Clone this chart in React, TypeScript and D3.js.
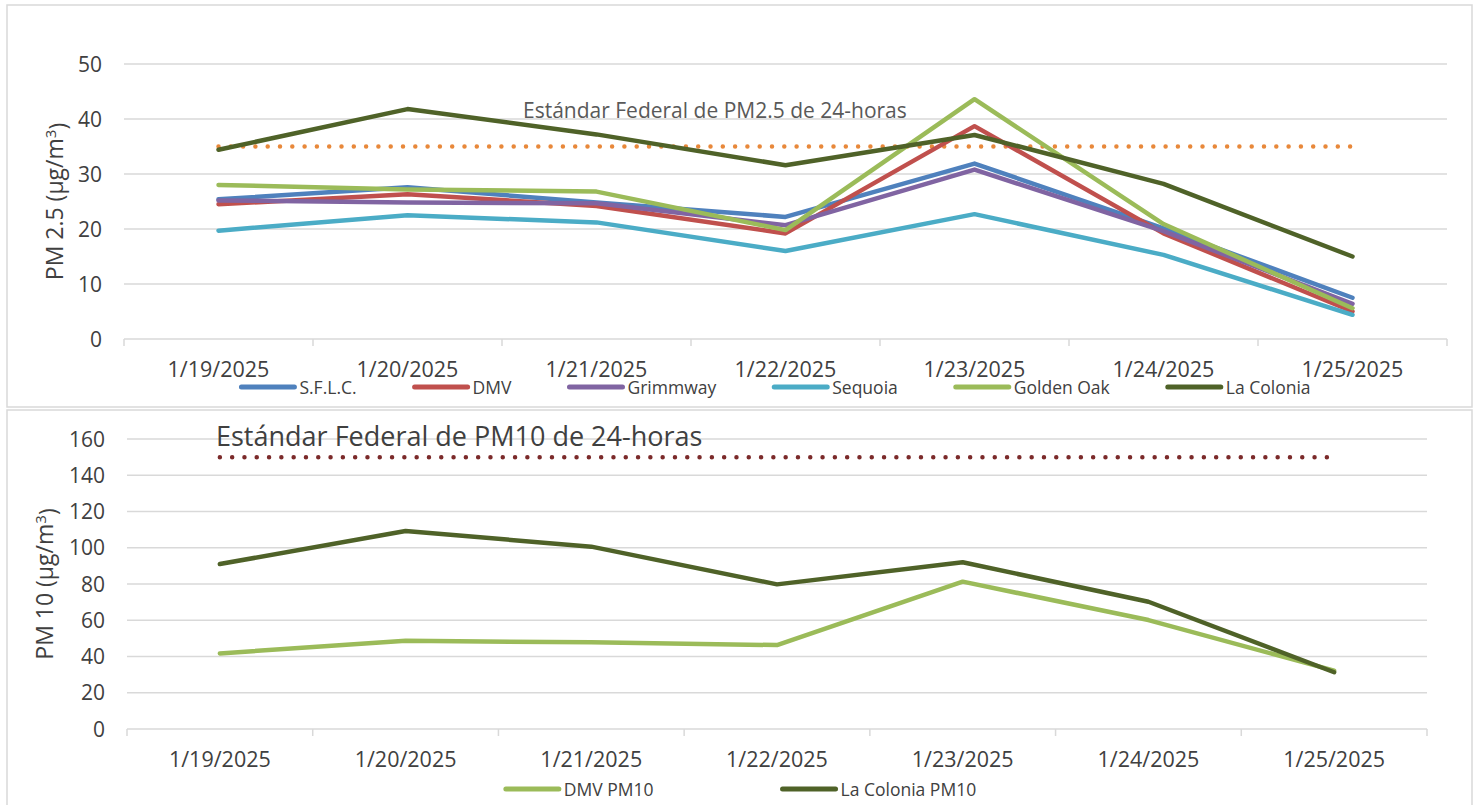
import React, { useEffect, useRef } from 'react';
import * as d3 from 'd3';

// categories
const dates = ['1/19/2025', '1/20/2025', '1/21/2025', '1/22/2025', '1/23/2025', '1/24/2025', '1/25/2025'];

// PM 2.5 series (µg/m3)
const sflc = [25.4, 27.6, 24.8, 22.2, 31.9, 20.1, 7.5];
const dmv = [24.5, 26.3, 24.2, 19.2, 38.7, 19.2, 5.0];
const grimmway = [25.2, 24.8, 24.7, 20.7, 30.8, 19.6, 6.4];
const sequoia = [19.7, 22.5, 21.2, 16.0, 22.7, 15.3, 4.4];
const goldenOak = [28.0, 27.2, 26.8, 19.8, 43.6, 20.9, 5.6];
const laColonia = [34.4, 41.8, 37.2, 31.6, 37.1, 28.2, 15.0];
const pm25Standard = 35;
const pm25Ticks = [0, 10, 20, 30, 40, 50];

// PM 10 series (µg/m3)
const dmvPm10 = [41.7, 48.7, 47.8, 46.3, 81.3, 60.1, 32.2];
const laColoniaPm10 = [91.0, 109.2, 100.6, 79.8, 92.0, 70.2, 31.3];
const pm10Standard = 150;
const pm10Ticks = [0, 20, 40, 60, 80, 100, 120, 140, 160];

const FONT = "'Open Sans', 'Liberation Sans', sans-serif";
const GRID = '#d9d9d9';
const TEXT = '#404040';

function drawChart(svg, cfg) {
  const g = svg.append('g');

  g.append('rect')
    .attr('x', cfg.box.x).attr('y', cfg.box.y)
    .attr('width', cfg.box.w).attr('height', cfg.box.h)
    .attr('fill', '#fff').attr('stroke', GRID).attr('stroke-width', 1.5);

  let x = d3.scaleBand().domain(dates).range([cfg.left, cfg.right]);
  let y = d3.scaleLinear().domain([0, d3.max(cfg.ticks)]).range([cfg.bottom, cfg.top]);
  let cx = d => x(d) + x.bandwidth() / 2;

  // gridlines
  g.selectAll('.grid').data(cfg.ticks.filter(t => t > 0)).join('line')
    .attr('x1', cfg.left).attr('x2', cfg.right)
    .attr('y1', d => y(d)).attr('y2', d => y(d))
    .attr('stroke', GRID).attr('stroke-width', 1.5);

  // category axis
  g.append('line')
    .attr('x1', cfg.left).attr('x2', cfg.right)
    .attr('y1', y(0)).attr('y2', y(0))
    .attr('stroke', GRID).attr('stroke-width', 1.5);
  g.selectAll('.xtick').data(d3.range(dates.length + 1)).join('line')
    .attr('x1', i => cfg.left + i * x.step()).attr('x2', i => cfg.left + i * x.step())
    .attr('y1', y(0)).attr('y2', y(0) + 7)
    .attr('stroke', GRID).attr('stroke-width', 1.5);

  g.selectAll('.xlab').data(dates).join('text')
    .attr('x', d => cx(d)).attr('y', y(0) + 38)
    .attr('text-anchor', 'middle')
    .attr('font-family', FONT).attr('font-size', 21.5).attr('fill', TEXT)
    .text(d => d);

  g.selectAll('.ylab').data(cfg.ticks).join('text')
    .attr('x', cfg.left - 22).attr('y', d => y(d))
    .attr('dy', '0.36em')
    .attr('text-anchor', 'end')
    .attr('font-family', FONT).attr('font-size', 21).attr('fill', TEXT)
    .text(d => d);

  // y axis title
  let title = g.append('text')
    .attr('transform', `translate(${cfg.titleX}, ${(cfg.top + cfg.bottom) / 2}) rotate(-90)`)
    .attr('text-anchor', 'middle')
    .attr('font-family', FONT).attr('font-size', 23).attr('fill', TEXT);
  title.append('tspan').text(cfg.title + ' (µg/m');
  title.append('tspan').attr('dy', '-0.45em').attr('font-size', 15).text('3');
  title.append('tspan').attr('dy', '0.45em').text(')');

  // standard (dotted)
  g.append('path')
    .datum(dates)
    .attr('d', d3.line().x(d => cx(d)).y(() => y(cfg.standard)))
    .attr('fill', 'none')
    .attr('stroke', cfg.standardColor).attr('stroke-width', 4.5)
    .attr('stroke-linecap', 'round')
    .attr('stroke-dasharray', '0 12.3');

  // series
  let line = d3.line().x((d, i) => cx(dates[i])).y(d => y(d));
  g.selectAll('.series').data(cfg.series).join('path')
    .attr('d', s => line(s.values))
    .attr('fill', 'none')
    .attr('stroke', s => s.color).attr('stroke-width', 4.5)
    .attr('stroke-linejoin', 'round').attr('stroke-linecap', 'round');

  // annotation
  g.append('text')
    .attr('x', cfg.noteX).attr('y', y(cfg.standard) + cfg.noteDy)
    .attr('font-family', FONT).attr('font-size', cfg.noteSize).attr('fill', cfg.noteColor)
    .text(cfg.note);

  // legend
  let lg = g.append('g');
  let items = lg.selectAll('g').data(cfg.series).join('g');
  items.append('line')
    .attr('x1', 0).attr('x2', 53).attr('y1', 0).attr('y2', 0)
    .attr('stroke', s => s.color).attr('stroke-width', 5).attr('stroke-linecap', 'round');
  items.append('text')
    .attr('x', 58).attr('y', 6.5)
    .attr('font-family', FONT).attr('font-size', 17.5).attr('fill', TEXT)
    .text(s => s.name);
  let pos = 0;
  let offs = [];
  items.each(function () {
    offs.push(pos);
    let w = d3.select(this).select('text').node().getComputedTextLength();
    pos += 58 + w + cfg.legendGap;
  });
  let total = pos - cfg.legendGap;
  items.attr('transform', (d, i) => `translate(${offs[i]}, 0)`);
  lg.attr('transform', `translate(${cfg.legendCenter - total / 2}, ${cfg.legendY})`);
}

export default function App() {
  const ref = useRef(null);

  useEffect(() => {
    let svg = d3.select(ref.current);
    svg.selectAll('*').remove();

    drawChart(svg, {
      box: { x: 7, y: 5, w: 1465, h: 402 },
      left: 124, right: 1447, top: 64, bottom: 339,
      ticks: pm25Ticks,
      title: 'PM 2.5', titleX: 62.5,
      standard: pm25Standard, standardColor: '#e8883a',
      note: 'Estándar Federal de PM2.5 de 24-horas', noteX: 523, noteDy: -29, noteSize: 21, noteColor: '#595959',
      series: [
        { name: 'S.F.L.C.', values: sflc, color: '#4f81bd' },
        { name: 'DMV', values: dmv, color: '#c0504d' },
        { name: 'Grimmway', values: grimmway, color: '#8064a2' },
        { name: 'Sequoia', values: sequoia, color: '#4bacc6' },
        { name: 'Golden Oak', values: goldenOak, color: '#9bbb59' },
        { name: 'La Colonia', values: laColonia, color: '#4f6228' },
      ],
      legendGap: 58, legendCenter: 776, legendY: 387,
    });

    drawChart(svg, {
      box: { x: 7, y: 410, w: 1465, h: 410 },
      left: 127, right: 1427, top: 439, bottom: 729,
      ticks: pm10Ticks,
      title: 'PM 10', titleX: 52.5,
      standard: pm10Standard, standardColor: '#7b2a2a',
      note: 'Estándar Federal de PM10 de 24-horas', noteX: 216, noteDy: -11.5, noteSize: 27, noteColor: TEXT,
      series: [
        { name: 'DMV PM10', values: dmvPm10, color: '#9bbb59' },
        { name: 'La Colonia PM10', values: laColoniaPm10, color: '#4f6228' },
      ],
      legendGap: 129, legendCenter: 741, legendY: 789,
    });
  }, []);

  return (
    <svg ref={ref} width={1478} height={805}
      style={{ position: 'absolute', left: 0, top: 0, background: '#fff' }} />
  );
}
